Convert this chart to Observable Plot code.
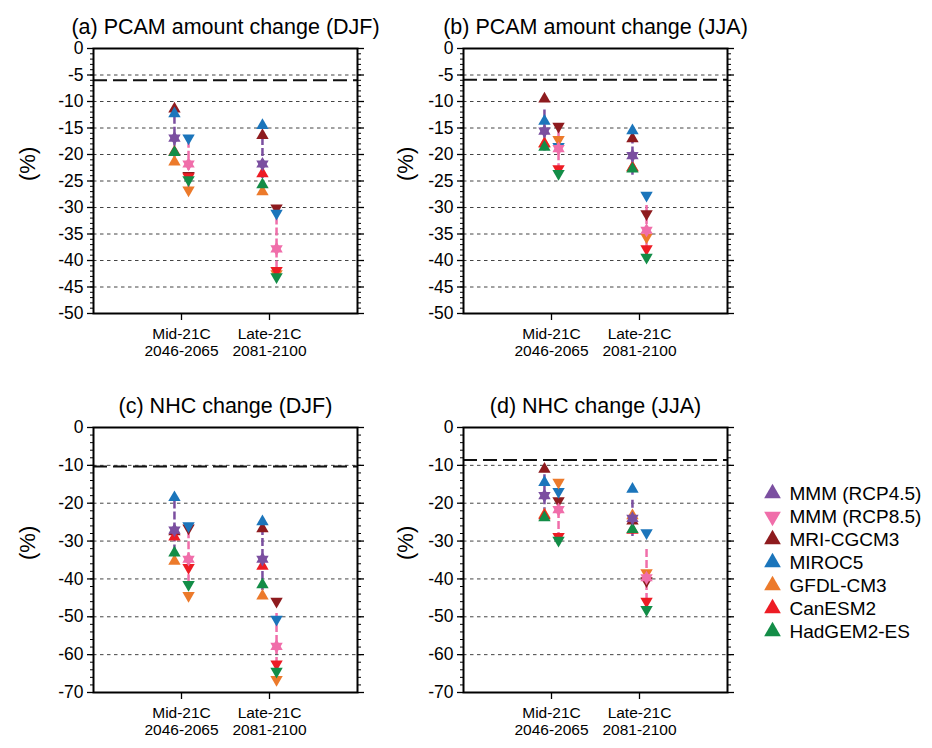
<!DOCTYPE html>
<html>
<head>
<meta charset="utf-8">
<script src="https://cdn.jsdelivr.net/npm/d3@7"></script>
<script src="https://cdn.jsdelivr.net/npm/@observablehq/plot@0.6"></script>
<style>
  html, body { margin: 0; padding: 0; background: #fff; }
  #root { position: relative; width: 932px; height: 748px; overflow: hidden; font-family: "Liberation Sans", Arial, sans-serif; }
  .pane { position: absolute; }
</style>
</head>
<body>
<div id="root"></div>
<script>
// ---------- data ----------
const periodLabels = ["Mid-21C\n2046-2065", "Late-21C\n2081-2100"];
const models = ["MRI-CGCM3", "MIROC5", "GFDL-CM3", "CanESM2", "HadGEM2-ES"];
const modelColors = ["#8E1B1E", "#1B75BB", "#EC7A2B", "#ED1C24", "#138D47"];
const mmmColors = ["#7B4FA0", "#F06EAA"];
const legendLabels = ["MMM (RCP4.5)", "MMM (RCP8.5)", "MRI-CGCM3", "MIROC5", "GFDL-CM3", "CanESM2", "HadGEM2-ES"];
const legendColors = ["#7B4FA0", "#F06EAA", "#8E1B1E", "#1B75BB", "#EC7A2B", "#ED1C24", "#138D47"];
const legendDown = [false, true, false, false, false, false, false];

// each array: [Mid RCP4.5, Mid RCP8.5, Late RCP4.5, Late RCP8.5]  (%)
// (a) PCAM amount change (DJF)
const a_MRI   = [-11.4, -24.0, -16.4, -30.1];
const a_MIROC = [-12.3, -16.9, -14.5, -31.1];
const a_GFDL  = [-21.4, -26.7, -27.0, -42.5];
const a_Can   = [-19.5, -24.2, -23.6, -41.9];
const a_Had   = [-19.6, -24.8, -25.7, -43.1];
const a_MMM   = [-16.9, -21.8, -21.8, -37.8];
const a_errHi = [-12.8, -17.3, -16.8, -31.8];
const a_errLo = [-21.0, -26.3, -26.5, -44.0];
const a_ref = -6.0;
// (b) PCAM amount change (JJA)
const b_MRI   = [-9.5, -14.7, -17.0, -31.2];
const b_MIROC = [-13.7, -18.5, -15.5, -27.7];
const b_GFDL  = [-17.9, -17.2, -22.5, -35.6];
const b_Can   = [-18.0, -22.7, -22.5, -37.8];
const b_Had   = [-18.6, -23.6, -22.7, -39.4];
const b_MMM   = [-15.6, -18.9, -20.2, -34.3];
const b_errHi = [-11.6, -15.5, -16.5, -29.6];
const b_errLo = [-19.6, -22.3, -23.9, -39.0];
const b_ref = -5.9;
// (c) NHC change (DJF)
const c_MRI   = [-27.5, -26.6, -26.7, -45.9];
const c_MIROC = [-18.5, -26.0, -24.9, -50.7];
const c_GFDL  = [-35.3, -44.4, -44.5, -66.6];
const c_Can   = [-28.9, -37.0, -36.6, -62.5];
const c_Had   = [-33.1, -41.5, -41.5, -64.4];
const c_MMM   = [-27.1, -34.8, -34.8, -57.8];
const c_errHi = [-19.4, -27.3, -26.4, -49.1];
const c_errLo = [-34.8, -42.1, -43.2, -66.5];
const c_ref = -10.3;
// (d) NHC change (JJA)
const d_MRI   = [-11.0, -19.4, -24.7, -40.5];
const d_MIROC = [-14.5, -16.9, -16.3, -27.8];
const d_GFDL  = [-23.0, -14.5, -23.3, -38.4];
const d_Can   = [-23.3, -28.8, -27.1, -45.9];
const d_Had   = [-23.8, -29.8, -26.9, -48.1];
const d_MMM   = [-18.0, -21.7, -24.0, -39.7];
const d_errHi = [-12.5, -19.0, -19.2, -32.2];
const d_errLo = [-23.5, -28.5, -28.8, -47.2];
const d_ref = -8.6;

const ticksPCAM = [0, -5, -10, -15, -20, -25, -30, -35, -40, -45, -50];
const minorPCAM = d3.range(0, -51, -1);
const gridPCAM  = [-5, -10, -15, -20, -25, -30, -35, -40, -45];
const ticksNHC  = [0, -10, -20, -30, -40, -50, -60, -70];
const minorNHC  = d3.range(0, -71, -2);
const gridNHC   = [-10, -20, -30, -40, -50, -60];

// ---------- drawing ----------
const FONT = "'Liberation Sans', Arial, Helvetica, sans-serif";
const OFF = 0.08;
const xPos = i => (i < 2 ? 1 : 2) + (i % 2 === 0 ? -OFF : OFF);
const isDown = i => i % 2 === 1;

function panel({title, modelVals, mmm, errHi, errLo, ref, yDomain, ticks, minor, grid, labelDx}) {
  const rows = [];
  modelVals.forEach((vals, m) => vals.forEach((v, i) => rows.push({x: xPos(i), y: v, color: modelColors[m], rot: isDown(i) ? 180 : 0})));
  const mrows = mmm.map((v, i) => ({x: xPos(i), y: v, color: mmmColors[i % 2]}));
  const erows = mmm.map((v, i) => ({x: xPos(i), y1: errHi[i], y2: errLo[i], color: mmmColors[i % 2]}));
  return Plot.plot({
    width: 400, height: 370,
    marginLeft: 93, marginRight: 43, marginTop: 48, marginBottom: 57,
    style: {fontFamily: FONT, background: "transparent", overflow: "visible", color: "#000"},
    x: {domain: [0, 3], axis: null},
    y: {domain: yDomain, axis: null},
    marks: [
      Plot.ruleY(grid, {y: d => d, stroke: "#444", strokeWidth: 1, strokeDasharray: "3.5,3.5"}),
      Plot.ruleY([ref], {y: d => d, stroke: "#111", strokeWidth: 2, strokeDasharray: "14,6"}),
      Plot.ruleX(erows, {x: "x", y1: "y1", y2: "y2", stroke: "color", strokeWidth: 2.5, strokeDasharray: "8,3"}),
      Plot.dot(rows, {x: "x", y: "y", fill: "color", symbol: "triangle", rotate: "rot", r: 4.6}),
      Plot.dot(mrows, {x: "x", y: "y", fill: "color", symbol: "triangle", r: 4.6}),
      Plot.dot(mrows, {x: "x", y: "y", fill: "color", symbol: "triangle", rotate: 180, r: 4.6}),
      Plot.axisY(ticks, {anchor: "left", tickSize: 6, tickPadding: 4, fontSize: 17.5, strokeWidth: 1.3, tickFormat: d => String(d), label: null}),
      Plot.axisY(minor, {anchor: "left", tickSize: 3, strokeWidth: 1, tickFormat: () => "", label: null}),
      Plot.axisY(ticks, {anchor: "right", tickSize: 6, strokeWidth: 1.3, tickFormat: () => "", label: null}),
      Plot.axisY(minor, {anchor: "right", tickSize: 3, strokeWidth: 1, tickFormat: () => "", label: null}),
      Plot.axisX([1, 2], {anchor: "bottom", tickSize: 7, tickPadding: 6, strokeWidth: 1.3, fontSize: 15.5, lineHeight: 1.12, tickFormat: d => periodLabels[d - 1], label: null}),
      Plot.frame({stroke: "#000", strokeWidth: 2}),
      Plot.text([title], {frameAnchor: "top", dy: -30, fontSize: 21.5, fill: "#000"}),
      Plot.text(["(%)"], {frameAnchor: "left", dx: labelDx, rotate: -90, fontSize: 22, fill: "#000"})
    ]
  });
}

function place(node, left, top) {
  const div = document.createElement("div");
  div.className = "pane";
  div.style.left = left + "px";
  div.style.top = top + "px";
  div.appendChild(node);
  document.getElementById("root").appendChild(div);
}

place(panel({title: "(a) PCAM amount change (DJF)", modelVals: [a_MRI, a_MIROC, a_GFDL, a_Can, a_Had], mmm: a_MMM, errHi: a_errHi, errLo: a_errLo, ref: a_ref, yDomain: [-50, 0], ticks: ticksPCAM, minor: minorPCAM, grid: gridPCAM, labelDx: -66}), 0, 0);
place(panel({title: "(b) PCAM amount change (JJA)", modelVals: [b_MRI, b_MIROC, b_GFDL, b_Can, b_Had], mmm: b_MMM, errHi: b_errHi, errLo: b_errLo, ref: b_ref, yDomain: [-50, 0], ticks: ticksPCAM, minor: minorPCAM, grid: gridPCAM, labelDx: -58}), 370, 0);
place(panel({title: "(c) NHC change (DJF)", modelVals: [c_MRI, c_MIROC, c_GFDL, c_Can, c_Had], mmm: c_MMM, errHi: c_errHi, errLo: c_errLo, ref: c_ref, yDomain: [-70, 0], ticks: ticksNHC, minor: minorNHC, grid: gridNHC, labelDx: -66}), 0, 379);
place(panel({title: "(d) NHC change (JJA)", modelVals: [d_MRI, d_MIROC, d_GFDL, d_Can, d_Had], mmm: d_MMM, errHi: d_errHi, errLo: d_errLo, ref: d_ref, yDomain: [-70, 0], ticks: ticksNHC, minor: minorNHC, grid: gridNHC, labelDx: -58}), 370, 379);

// legend
const legend = Plot.plot({
  width: 177, height: 180,
  marginTop: 20, marginBottom: 17, marginLeft: 0, marginRight: 0,
  style: {fontFamily: FONT, background: "transparent", overflow: "visible", color: "#000"},
  y: {type: "point", domain: legendLabels, padding: 0, axis: null},
  marks: [
    Plot.dot(legendLabels, {y: d => d, frameAnchor: "left", dx: 17, symbol: "triangle", r: 6.2,
      fill: (d, i) => legendColors[i], rotate: (d, i) => legendDown[i] ? 180 : 0}),
    Plot.text(legendLabels, {y: d => d, frameAnchor: "left", dx: 34, textAnchor: "start", fontSize: 19, fill: "#000"})
  ]
});
place(legend, 755, 470);
</script>
</body>
</html>
